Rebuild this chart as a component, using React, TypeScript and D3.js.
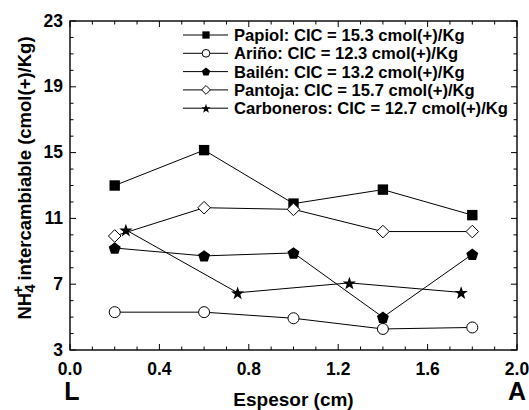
import React from 'react';
import * as d3 from 'd3';

const xTicks = [0.0, 0.4, 0.8, 1.2, 1.6, 2.0];
const yTicks = [3, 7, 11, 15, 19, 23];

const xMain = [0.2, 0.6, 1.0, 1.4, 1.8];
const xCarb = [0.25, 0.75, 1.25, 1.75];

const papiol = [13.0, 15.15, 11.9, 12.75, 11.2];
const arino = [5.3, 5.3, 4.93, 4.28, 4.37];
const bailen = [9.2, 8.72, 8.9, 4.99, 8.82];
const pantoja = [9.93, 11.65, 11.55, 10.2, 10.2];
const carboneros = [10.3, 6.48, 7.08, 6.5];

const legendLabels = [
  'Papiol: CIC = 15.3 cmol(+)/Kg',
  'Ariño: CIC = 12.3 cmol(+)/Kg',
  'Bailén: CIC = 13.2 cmol(+)/Kg',
  'Pantoja: CIC = 15.7 cmol(+)/Kg',
  'Carboneros: CIC = 12.7 cmol(+)/Kg',
];

const W = 529, H = 410;
const left = 70, right = 517, top = 21, bottom = 350;
const font = '"Liberation Sans", Arial, sans-serif';

// marker shape per series
function Marker({kind, x, y, s = 1}: {kind: string; x: number; y: number; s?: number}) {
  if (kind === 'square') {
    const r = 5.2 * s;
    return <rect x={x - r} y={y - r} width={2 * r} height={2 * r} fill="#000" />;
  }
  if (kind === 'circle') {
    return <circle cx={x} cy={y} r={5.5 * s} fill="#fff" stroke="#000" strokeWidth={1} />;
  }
  if (kind === 'diamond') {
    const r = 6.3 * s;
    return <path d={`M${x},${y - r}L${x + r},${y}L${x},${y + r}L${x - r},${y}Z`} fill="#fff" stroke="#000" strokeWidth={1} />;
  }
  if (kind === 'pentagon') {
    const r = 6.3 * s;
    const pts = d3.range(5).map(i => {
      const a = -Math.PI / 2 + i * 2 * Math.PI / 5;
      return `${x + r * Math.cos(a)},${y + r * Math.sin(a) + 0.6 * s}`;
    });
    return <polygon points={pts.join(' ')} fill="#000" />;
  }
  // star
  const ro = 7 * s, ri = 2.8 * s;
  const pts = d3.range(10).map(i => {
    const a = -Math.PI / 2 + i * Math.PI / 5;
    const r = i % 2 ? ri : ro;
    return `${x + r * Math.cos(a)},${y + r * Math.sin(a) + 0.8 * s}`;
  });
  return <polygon points={pts.join(' ')} fill="#000" />;
}

export default function App() {
  const xScale = d3.scaleLinear().domain([0, 2]).range([left, right]);
  const yScale = d3.scaleLinear().domain([3, 23]).range([bottom, top]);
  const line = d3.line<[number, number]>().x(d => xScale(d[0])).y(d => yScale(d[1]));

  const series = [
    {kind: 'square', xs: xMain, ys: papiol},
    {kind: 'circle', xs: xMain, ys: arino},
    {kind: 'pentagon', xs: xMain, ys: bailen},
    {kind: 'diamond', xs: xMain, ys: pantoja},
    {kind: 'star', xs: xCarb, ys: carboneros},
  ];

  const xMinor = d3.range(0, 2.0001, 0.1);
  const yMinor = d3.range(3, 23.0001, 1);

  return (
    <svg width={W} height={H} style={{position: 'absolute', left: 0, top: 0}} fontFamily={font} fontWeight="bold">
      <rect x={0} y={0} width={W} height={H} fill="#fff" />
      {/* ticks */}
      {xMinor.map((v, i) => {
        const len = Math.abs(v / 0.4 - Math.round(v / 0.4)) < 1e-6 ? 6 : 3.5;
        return (
          <g key={'xt' + i}>
            <line x1={xScale(v)} x2={xScale(v)} y1={bottom} y2={bottom - len} stroke="#000" />
            <line x1={xScale(v)} x2={xScale(v)} y1={top} y2={top + len} stroke="#000" />
          </g>
        );
      })}
      {yMinor.map((v, i) => {
        const len = (v - 3) % 4 === 0 ? 6 : 3.5;
        return (
          <g key={'yt' + i}>
            <line x1={left} x2={left + len} y1={yScale(v)} y2={yScale(v)} stroke="#000" />
            <line x1={right} x2={right - len} y1={yScale(v)} y2={yScale(v)} stroke="#000" />
          </g>
        );
      })}
      <rect x={left} y={top} width={right - left} height={bottom - top} fill="none" stroke="#000" strokeWidth={1.4} />

      {xTicks.map(v => (
        <text key={'xl' + v} x={xScale(v)} y={bottom + 25} textAnchor="middle" fontSize={17.5}>{v.toFixed(1)}</text>
      ))}
      {yTicks.map(v => (
        <text key={'yl' + v} x={left - 7} y={yScale(v) + 5.5} textAnchor="end" fontSize={17.5}>{v}</text>
      ))}
      <text x={left + 2} y={bottom + 50} textAnchor="middle" fontSize={25}>L</text>
      <text x={right} y={bottom + 50} textAnchor="middle" fontSize={25}>A</text>
      <text x={(left + right) / 2} y={H - 4} textAnchor="middle" fontSize={19}>Espesor (cm)</text>
      <text transform={`translate(31,178) rotate(-90)`} textAnchor="middle" fontSize={18.5}>
        NH<tspan dy={4} fontSize={15}>4</tspan><tspan dx={-10} dy={-12} fontSize={15}>+</tspan><tspan dy={8}> intercambiable (cmol(+)/Kg)</tspan>
      </text>

      {/* series */}
      {series.map((s, si) => {
        const pts = s.xs.map((x, i) => [x, s.ys[i]] as [number, number]);
        return (
          <g key={'s' + si}>
            <path d={line(pts) || ''} fill="none" stroke="#000" strokeWidth={1} />
            {pts.map((p, i) => <Marker key={i} kind={s.kind} x={xScale(p[0])} y={yScale(p[1])} />)}
          </g>
        );
      })}

      {/* legend */}
      {series.map((s, i) => {
        const ly = 35 + i * 18.3;
        return (
          <g key={'lg' + i}>
            <line x1={183} x2={228} y1={ly} y2={ly} stroke="#000" strokeWidth={1} />
            <Marker kind={s.kind} x={206} y={ly} s={0.7} />
            <text x={234} y={ly + 6} fontSize={16.6}>{legendLabels[i]}</text>
          </g>
        );
      })}
    </svg>
  );
}
